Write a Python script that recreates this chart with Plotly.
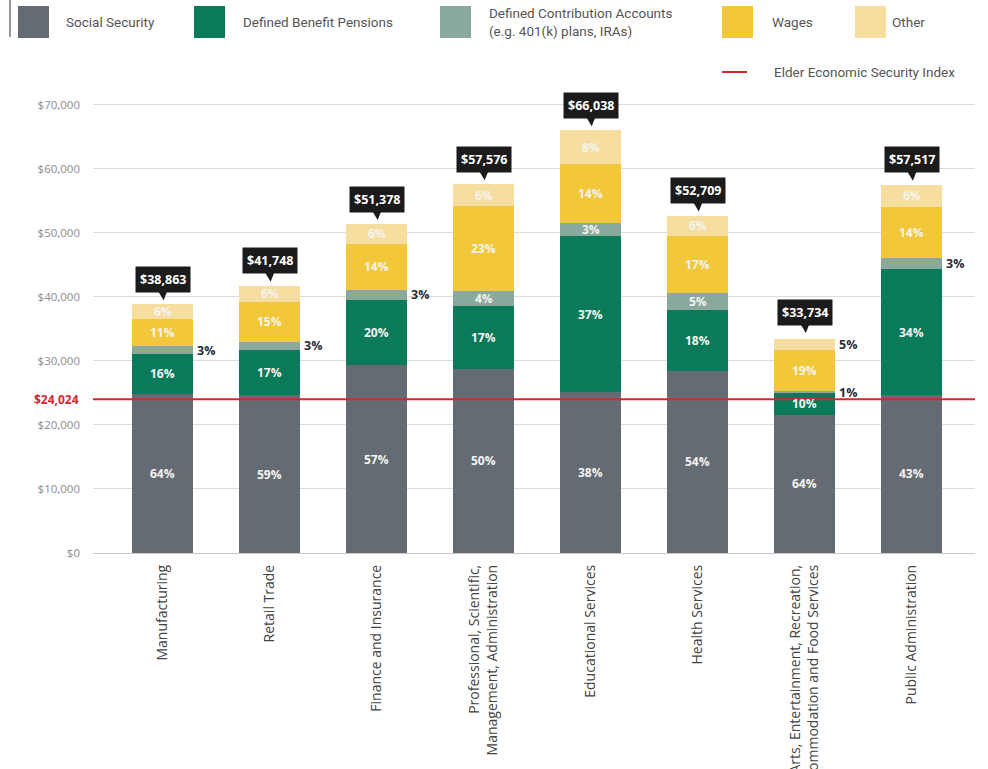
import plotly.graph_objects as go

# Industries and total retirement income per industry
industries = [
    "Manufacturing",
    "Retail Trade",
    "Finance and Insurance",
    "Professional, Scientific,<br>Management, Administration",
    "Educational Services",
    "Health Services",
    "Arts, Entertainment, Recreation,<br>Accommodation and Food Services",
    "Public Administration",
]
totals = [38863, 41748, 51378, 57576, 66038, 52709, 33734, 57517]

# Share of income (%) by source
social_security = [64, 59, 57, 50, 38, 54, 64, 43]
defined_benefit = [16, 17, 20, 17, 37, 18, 10, 34]
defined_contrib = [3, 3, 3, 4, 3, 5, 1, 3]
wages = [11, 15, 14, 23, 14, 17, 19, 14]
other = [6, 6, 6, 6, 8, 6, 5, 6]

elder_index = 24024

series_names = ["Social Security", "Defined Benefit Pensions",
                "Defined Contribution Accounts<br>(e.g. 401(k) plans, IRAs)",
                "Wages", "Other"]
series_pcts = [social_security, defined_benefit, defined_contrib, wages, other]
colors = ["#656b73", "#0b7a5b", "#88a99c", "#f2c73a", "#f6dea0"]
RED = "#d7262c"

# segments whose label sits to the right of the bar: (series index, bar index)
outside = {(2, 0), (2, 1), (2, 2), (2, 7), (2, 6), (4, 6)}

# plot area in pixels (for positioning the hand-built legend)
L, R, T, B = 93, 975, 92, 553
W_FIG, H_FIG = 988, 769


def px(x):
    return (x - L) / (R - L)


def py(y):
    return (B - y) / (B - T)


BAR_W = 0.57
xs = list(range(len(industries)))

fig = go.Figure()
annotations = []
shapes = []

base = [0.0] * len(industries)
for s, (name, pcts, col) in enumerate(zip(series_names, series_pcts, colors)):
    vals = [p / 100 * t for p, t in zip(pcts, totals)]
    fig.add_trace(go.Bar(x=xs, y=vals, name=name, marker=dict(color=col, line=dict(width=0)),
                         width=BAR_W, showlegend=False, hoverinfo="skip"))
    for i, (v, p) in enumerate(zip(vals, pcts)):
        mid = base[i] + v / 2
        if (s, i) in outside:
            annotations.append(dict(x=i + BAR_W / 2, y=mid, xref="x", yref="y",
                                    text=f"<b>{p}%</b>", showarrow=False, xanchor="left",
                                    xshift=2, font=dict(family="Open Sans", size=12.5, color="#2b2b33")))
        else:
            annotations.append(dict(x=i, y=mid, xref="x", yref="y", text=f"<b>{p}%</b>",
                                    showarrow=False,
                                    font=dict(family="Open Sans", size=12, color="#f4f4f0")))
        base[i] += v

# total callouts above each bar
for i, t in enumerate(totals):
    annotations.append(dict(x=i, y=t, xref="x", yref="y", text=f"<b>${t:,}</b>",
                            showarrow=False, yshift=25, bgcolor="#1b1b1b", borderpad=4,
                            font=dict(family="Open Sans", size=12.5, color="white")))
    shapes.append(dict(type="path", xref="x", yref="y", xsizemode="pixel", ysizemode="pixel",
                       xanchor=i, yanchor=t, path="M -5 14 L 5 14 L 1 4 Z",
                       fillcolor="#1b1b1b", line=dict(width=0), layer="above"))

# Elder Economic Security Index line
shapes.append(dict(type="line", xref="paper", yref="y", x0=0, x1=1, y0=elder_index,
                   y1=elder_index, line=dict(color=RED, width=2), layer="above"))
annotations.append(dict(x=0, y=elder_index, xref="paper", yref="y", text="<b>$24,024</b>",
                        showarrow=False, xanchor="right", xshift=-12,
                        font=dict(family="Open Sans", size=12, color=RED)))

# legend built from shapes and text
LEG_FONT = dict(family="Roboto, sans-serif", size=13.5, color="#555")
legend_items = [(18, 64), (194, 241), (440, 487), (722, 770), (855, 890)]
for (sx, tx), name, col in zip(legend_items, series_names, colors):
    shapes.append(dict(type="rect", xref="paper", yref="paper", x0=px(sx), x1=px(sx + 31),
                       y0=py(38), y1=py(6), fillcolor=col, line=dict(width=0)))
    annotations.append(dict(x=px(tx), y=py(22), xref="paper", yref="paper", text=name,
                            showarrow=False, xanchor="left", yanchor="middle", align="left",
                            font=LEG_FONT))
shapes.append(dict(type="line", xref="paper", yref="paper", x0=px(722), x1=px(747),
                   y0=py(72), y1=py(72), line=dict(color=RED, width=2)))
annotations.append(dict(x=px(772), y=py(72), xref="paper", yref="paper",
                        text="Elder Economic Security Index", showarrow=False,
                        xanchor="left", yanchor="middle", font=LEG_FONT))
shapes.append(dict(type="line", xref="paper", yref="paper", x0=px(10), x1=px(10),
                   y0=py(0), y1=py(37), line=dict(color="#333", width=1)))

fig.update_layout(
    barmode="stack",
    width=W_FIG, height=H_FIG,
    margin=dict(l=L, r=W_FIG - R, t=T, b=H_FIG - B),
    plot_bgcolor="white", paper_bgcolor="white",
    bargap=0,
    annotations=annotations,
    shapes=shapes,
    xaxis=dict(
        tickmode="array", tickvals=xs, ticktext=industries, tickangle=-90,
        range=[-0.65, 7.59], showgrid=False, zeroline=False, ticks="",
        tickfont=dict(family="Open Sans", size=14, color="#444"), automargin=False,
        showline=False, ticklabelstandoff=8,
    ),
    yaxis=dict(
        range=[0, 72000], tickvals=list(range(0, 70001, 10000)),
        tickformat="$,.0f", showgrid=True, gridcolor="#dcdcdc", gridwidth=1,
        zeroline=True, zerolinecolor="#c8c8c8", zerolinewidth=1,
        tickfont=dict(family="Open Sans", size=11.5, color="#8c8c8c"),
        ticklabelstandoff=12, automargin=False,
    ),
)

fig.write_html("out.html")
